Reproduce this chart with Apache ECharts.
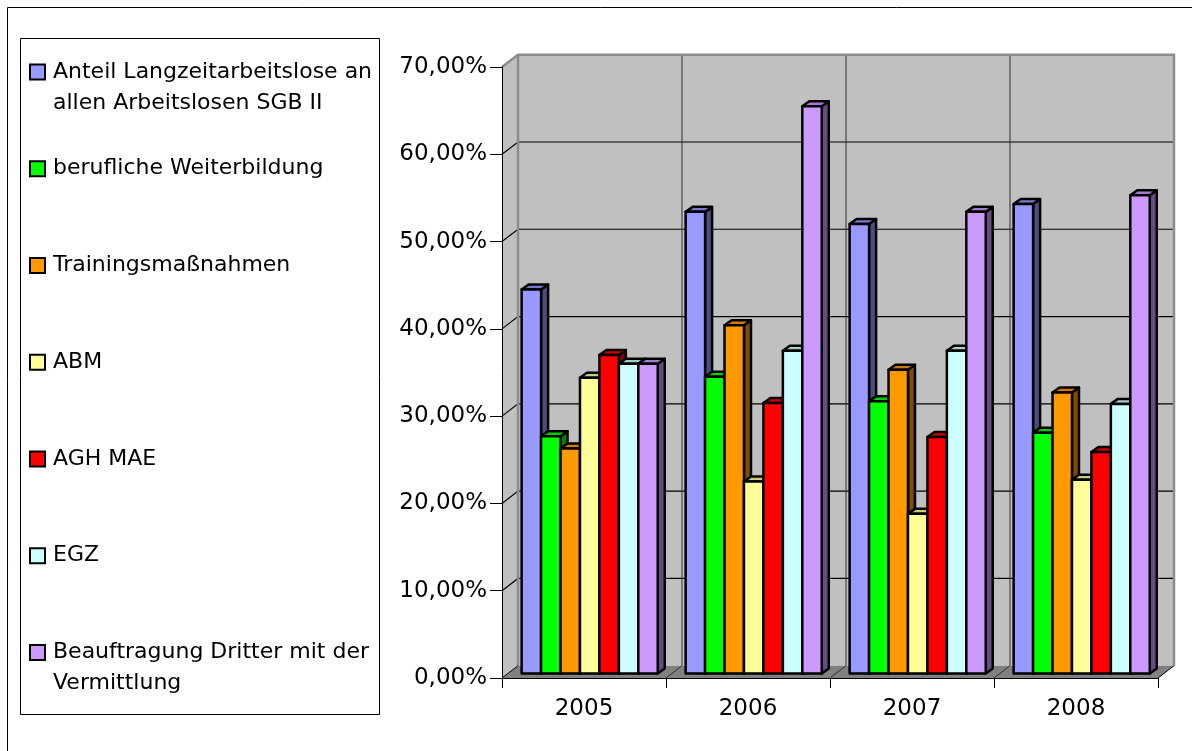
<!DOCTYPE html>
<html>
<head>
<meta charset="utf-8">
<script src="https://cdn.jsdelivr.net/npm/echarts@6/dist/echarts.min.js"></script>
<style>
  html, body { margin: 0; padding: 0; background: #ffffff; }
  #chart { width: 1192px; height: 751px; }
</style>
</head>
<body>
<div id="chart"></div>
<script>
// Categories (years)
const years = ['2005', '2006', '2007', '2008'];

// Series names and legend labels (legend wraps the long ones)
const seriesNames = [
  'Anteil Langzeitarbeitslose an allen Arbeitslosen SGB II',
  'berufliche Weiterbildung',
  'Trainingsmaßnahmen',
  'ABM',
  'AGH MAE',
  'EGZ',
  'Beauftragung Dritter mit der Vermittlung'
];
const legendLabels = [
  'Anteil Langzeitarbeitslose an\nallen Arbeitslosen SGB II',
  'berufliche Weiterbildung',
  'Trainingsmaßnahmen',
  'ABM',
  'AGH MAE',
  'EGZ',
  'Beauftragung Dritter mit der\nVermittlung'
];

// Shares in percent, one value per year
const langzeit      = [44.0, 52.9, 51.5, 53.8];
const weiterbildung = [27.2, 34.0, 31.2, 27.6];
const training      = [25.8, 39.9, 34.8, 32.2];
const abm           = [33.9, 22.0, 18.3, 22.2];
const aghMae        = [36.5, 31.0, 27.1, 25.4];
const egz           = [35.5, 37.0, 37.0, 30.9];
const beauftragung  = [35.5, 65.0, 52.9, 54.8];

// Value axis ticks
const yTicks = [0, 10, 20, 30, 40, 50, 60, 70];

const allValues = [langzeit, weiterbildung, training, abm, aghMae, egz, beauftragung];
const colors = ['#9999FF', '#00FF00', '#FF9900', '#FFFF99', '#FF0000', '#CCFFFF', '#CC99FF'];

// Oblique projection of the box: depth offset of the back wall
const DX = 16, DY = 12.3;
// Bars stand a bit behind the front plane and have a small depth of their own
const BAR_OFF_X = 5.7, BAR_OFF_Y = 4.4;
const BAR_DX = 7, BAR_DY = 5;
const GROUP_SHARE = 0.83;
const FONT = '"DejaVu Sans", sans-serif';

function shade(hex, k) {
  const n = parseInt(hex.slice(1), 16);
  const r = Math.round(((n >> 16) & 255) * k);
  const g = Math.round(((n >> 8) & 255) * k);
  const b = Math.round((n & 255) * k);
  return 'rgb(' + r + ',' + g + ',' + b + ')';
}

// Walls, floor and gridlines of the box, laid out from the axes
function renderFrame(params, api) {
  const bw = api.size([1, 0])[0];
  const origin = api.coord([0, 0]);
  const x0 = origin[0] - bw / 2;
  const y0 = origin[1];
  const x1 = x0 + bw * years.length;
  const yTop = api.coord([0, yTicks[yTicks.length - 1]])[1];
  const ch = [];
  ch.push({ type: 'rect', shape: { x: x0 + DX, y: yTop - DY, width: x1 - x0, height: y0 - yTop },
            style: { fill: '#C0C0C0' } });
  ch.push({ type: 'polygon', shape: { points: [[x0, y0], [x0, yTop], [x0 + DX, yTop - DY], [x0 + DX, y0 - DY]] },
            style: { fill: '#C0C0C0' } });
  ch.push({ type: 'polygon', shape: { points: [[x0, y0], [x1, y0], [x1 + DX, y0 - DY], [x0 + DX, y0 - DY]] },
            style: { fill: '#808080' } });
  yTicks.forEach(function (v, i) {
    if (i === 0 || i === yTicks.length - 1) return;
    const y = api.coord([0, v])[1];
    ch.push({ type: 'polyline', shape: { points: [[x0, y], [x0 + DX, y - DY], [x1 + DX, y - DY]] },
              style: { stroke: '#000000', lineWidth: 1.2, fill: null } });
  });
  for (let k = 1; k < years.length; k++) {
    const x = x0 + bw * k;
    ch.push({ type: 'polyline', shape: { points: [[x, y0], [x + DX, y0 - DY], [x + DX, yTop - DY]] },
              style: { stroke: '#303030', lineWidth: 1, fill: null } });
  }
  // wall edges
  ch.push({ type: 'polyline', shape: { points: [[x0, yTop], [x0 + DX, yTop - DY], [x1 + DX, yTop - DY], [x1 + DX, y0 - DY]] },
            style: { stroke: '#8C8C8C', lineWidth: 2.5, fill: null } });
  ch.push({ type: 'line', shape: { x1: x0 + DX, y1: yTop - DY, x2: x0 + DX, y2: y0 - DY },
            style: { stroke: '#8C8C8C', lineWidth: 2.5 } });
  ch.push({ type: 'line', shape: { x1: x1, y1: y0, x2: x1 + DX, y2: y0 - DY },
            style: { stroke: '#000000', lineWidth: 1 } });
  ch.push({ type: 'line', shape: { x1: x0, y1: y0, x2: x0 + DX, y2: y0 - DY },
            style: { stroke: '#000000', lineWidth: 1 } });
  return { type: 'group', children: ch };
}

// One 3D-looking bar: front face, top face and right side face
function makeBarRenderer(s) {
  return function (params, api) {
    const cat = api.value(0);
    const val = api.value(1);
    const bw = api.size([1, 0])[0];
    const top = api.coord([cat, val]);
    const base = api.coord([cat, 0]);
    const groupW = bw * GROUP_SHARE;
    const w = groupW / allValues.length;
    const xl = top[0] - groupW / 2 + s * w + BAR_OFF_X;
    const xr = xl + w;
    const yt = top[1] - BAR_OFF_Y;
    const yb = base[1] - BAR_OFF_Y;
    const c = colors[s];
    const line = { stroke: '#000000', lineWidth: 2.5, lineJoin: 'round' };
    return {
      type: 'group',
      children: [
        { type: 'polygon', shape: { points: [[xr, yt], [xr + BAR_DX, yt - BAR_DY], [xr + BAR_DX, yb - BAR_DY], [xr, yb]] },
          style: Object.assign({ fill: shade(c, 0.5) }, line) },
        { type: 'polygon', shape: { points: [[xl, yt], [xr, yt], [xr + BAR_DX, yt - BAR_DY], [xl + BAR_DX, yt - BAR_DY]] },
          style: Object.assign({ fill: shade(c, 0.8) }, line) },
        { type: 'rect', shape: { x: xl, y: yt, width: w, height: yb - yt },
          style: Object.assign({ fill: c }, line) }
      ]
    };
  };
}

// Legend drawn as a boxed list with wrapped labels
const legendGraphics = [
  { type: 'rect', shape: { x: 7.5, y: 7.5, width: 1200, height: 760 },
    style: { fill: null, stroke: '#000000', lineWidth: 1 }, silent: true },
  { type: 'rect', shape: { x: 20.5, y: 38.5, width: 359, height: 676 },
    style: { fill: '#ffffff', stroke: '#000000', lineWidth: 1 }, silent: true }
];
legendLabels.forEach(function (label, i) {
  const yc = 72 + i * 96.75;
  legendGraphics.push({
    type: 'rect', shape: { x: 30, y: yc - 7.5, width: 15, height: 15 },
    style: { fill: colors[i], stroke: '#000000', lineWidth: 2 }
  });
  legendGraphics.push({
    type: 'text', x: 53, y: yc - 15.5,
    style: { text: label, fill: '#000000', font: '22px ' + FONT, lineHeight: 31,
             verticalAlign: 'top', align: 'left' }
  });
});

const series = [{
  type: 'custom',
  name: 'frame',
  z: -10,
  silent: true,
  renderItem: renderFrame,
  data: [[0, 0]],
  encode: { x: 0, y: 1 }
}];
allValues.forEach(function (vals, s) {
  series.push({
    type: 'custom',
    name: seriesNames[s],
    z: 2 + s,
    renderItem: makeBarRenderer(s),
    data: vals.map(function (v, i) { return [i, v]; }),
    encode: { x: 0, y: 1 }
  });
});

const chart = echarts.init(document.getElementById('chart'), null, { renderer: 'canvas' });
chart.setOption({
  animation: false,
  backgroundColor: '#ffffff',
  textStyle: { fontFamily: FONT },
  grid: { left: 502, right: 34, top: 67, height: 611 },
  xAxis: {
    type: 'category',
    data: years,
    axisLine: { show: true, lineStyle: { color: '#000000', width: 1 } },
    axisTick: { show: true, length: 10, lineStyle: { color: '#000000' } },
    axisLabel: { color: '#000000', fontSize: 23, fontFamily: FONT, margin: 20 },
    splitLine: { show: false }
  },
  yAxis: {
    type: 'value',
    min: 0,
    max: 70,
    interval: 10,
    axisLine: { show: true, lineStyle: { color: '#000000', width: 1 } },
    axisTick: { show: true, length: 12, lineStyle: { color: '#000000' } },
    axisLabel: {
      color: '#000000', fontSize: 23, fontFamily: FONT, margin: 15,
      formatter: function (v) { return v.toFixed(2).replace('.', ',') + '%'; }
    },
    splitLine: { show: false }
  },
  graphic: legendGraphics,
  series: series
});
</script>
</body>
</html>
